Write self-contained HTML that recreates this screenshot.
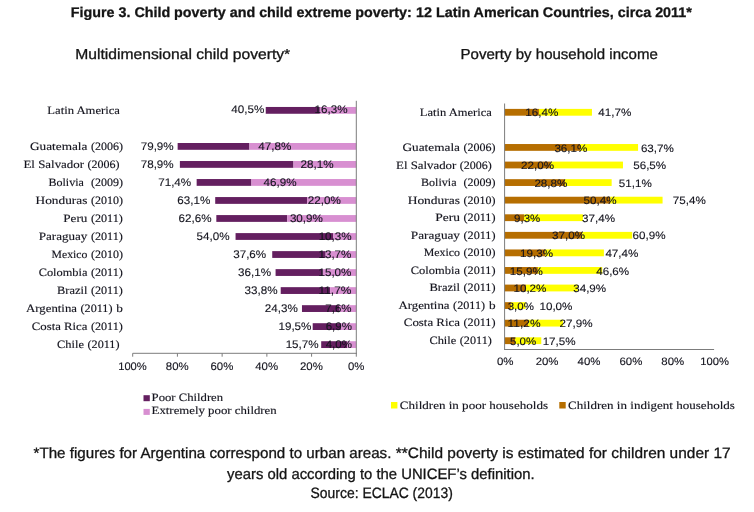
<!DOCTYPE html>
<html><head><meta charset="utf-8"><title>Figure 3</title>
<style>
html,body{margin:0;padding:0;background:#fff;}
body{width:754px;height:512px;overflow:hidden;font-family:"Liberation Sans",sans-serif;}
svg{display:block;will-change:transform;}
text{text-rendering:geometricPrecision;}
</style></head>
<body>
<svg width="754" height="512" viewBox="0 0 754 512">
<rect x="0" y="0" width="754" height="512" fill="#ffffff"/>
<text x="70.80" y="17.00" font-family='"Liberation Sans", sans-serif' font-size="14.0" font-weight="bold" fill="#141414" textLength="341.00" lengthAdjust="spacingAndGlyphs" xml:space="preserve" stroke="#141414" stroke-width="0.3">Figure 3. Child poverty and child extreme poverty:</text>
<text x="416.00" y="17.00" font-family='"Liberation Sans", sans-serif' font-size="14.0" font-weight="bold" fill="#141414" textLength="275.80" lengthAdjust="spacingAndGlyphs" xml:space="preserve" stroke="#141414" stroke-width="0.3">12 Latin American Countries, circa 2011*</text>
<text x="75.30" y="59.40" font-family='"Liberation Sans", sans-serif' font-size="14.5" font-weight="normal" fill="#141414" textLength="214.90" lengthAdjust="spacingAndGlyphs" xml:space="preserve" stroke="#141414" stroke-width="0.3">Multidimensional child poverty*</text>
<text x="460.60" y="59.20" font-family='"Liberation Sans", sans-serif' font-size="14.5" font-weight="normal" fill="#141414" textLength="197.20" lengthAdjust="spacingAndGlyphs" xml:space="preserve" stroke="#141414" stroke-width="0.3">Poverty by household income</text>
<text x="33.50" y="458.40" font-family='"Liberation Sans", sans-serif' font-size="15.0" font-weight="normal" fill="#141414" textLength="357.90" lengthAdjust="spacingAndGlyphs" xml:space="preserve" stroke="#141414" stroke-width="0.3">*The figures for Argentina correspond to urban areas.</text>
<text x="395.80" y="458.40" font-family='"Liberation Sans", sans-serif' font-size="15.0" font-weight="normal" fill="#141414" textLength="334.80" lengthAdjust="spacingAndGlyphs" xml:space="preserve" stroke="#141414" stroke-width="0.3">**Child poverty is estimated for children under 17</text>
<text x="227.00" y="478.70" font-family='"Liberation Sans", sans-serif' font-size="15.0" font-weight="normal" fill="#141414" textLength="307.60" lengthAdjust="spacingAndGlyphs" xml:space="preserve" stroke="#141414" stroke-width="0.3">years old according to the UNICEF’s definition.</text>
<text x="310.60" y="498.40" font-family='"Liberation Sans", sans-serif' font-size="15.0" font-weight="normal" fill="#141414" textLength="142.20" lengthAdjust="spacingAndGlyphs" xml:space="preserve" stroke="#141414" stroke-width="0.3">Source: ECLAC (2013)</text>
<rect x="265.74" y="106.96" width="54.11" height="6.80" fill="#641f60"/>
<rect x="319.85" y="106.96" width="36.45" height="6.80" fill="#d88fd1"/>
<rect x="177.64" y="143.00" width="71.78" height="6.80" fill="#641f60"/>
<rect x="249.42" y="143.00" width="106.88" height="6.80" fill="#d88fd1"/>
<rect x="179.88" y="161.02" width="113.59" height="6.80" fill="#641f60"/>
<rect x="293.47" y="161.02" width="62.83" height="6.80" fill="#d88fd1"/>
<rect x="196.65" y="179.04" width="54.78" height="6.80" fill="#641f60"/>
<rect x="251.43" y="179.04" width="104.87" height="6.80" fill="#d88fd1"/>
<rect x="215.21" y="197.06" width="91.90" height="6.80" fill="#641f60"/>
<rect x="307.11" y="197.06" width="49.19" height="6.80" fill="#d88fd1"/>
<rect x="216.33" y="215.08" width="70.88" height="6.80" fill="#641f60"/>
<rect x="287.21" y="215.08" width="69.09" height="6.80" fill="#d88fd1"/>
<rect x="235.56" y="233.10" width="97.71" height="6.80" fill="#641f60"/>
<rect x="333.27" y="233.10" width="23.03" height="6.80" fill="#d88fd1"/>
<rect x="272.23" y="251.12" width="53.44" height="6.80" fill="#641f60"/>
<rect x="325.67" y="251.12" width="30.63" height="6.80" fill="#d88fd1"/>
<rect x="275.58" y="269.14" width="47.18" height="6.80" fill="#641f60"/>
<rect x="322.76" y="269.14" width="33.54" height="6.80" fill="#d88fd1"/>
<rect x="280.72" y="287.16" width="49.42" height="6.80" fill="#641f60"/>
<rect x="330.14" y="287.16" width="26.16" height="6.80" fill="#d88fd1"/>
<rect x="301.97" y="305.18" width="37.34" height="6.80" fill="#641f60"/>
<rect x="339.31" y="305.18" width="16.99" height="6.80" fill="#d88fd1"/>
<rect x="312.70" y="323.20" width="28.17" height="6.80" fill="#641f60"/>
<rect x="340.87" y="323.20" width="15.43" height="6.80" fill="#d88fd1"/>
<rect x="321.19" y="341.22" width="26.16" height="6.80" fill="#641f60"/>
<rect x="347.36" y="341.22" width="8.94" height="6.80" fill="#d88fd1"/>
<line x1="356.30" y1="100.80" x2="356.30" y2="353.80" stroke="#7c7c7c" stroke-width="1"/>
<line x1="132.70" y1="353.30" x2="356.80" y2="353.30" stroke="#7c7c7c" stroke-width="1"/>
<line x1="356.30" y1="353.30" x2="356.30" y2="356.70" stroke="#7c7c7c" stroke-width="1"/>
<text x="347.90" y="369.50" font-family='"Liberation Sans", sans-serif' font-size="11.0" font-weight="normal" fill="#14141e" textLength="16.40" lengthAdjust="spacingAndGlyphs" xml:space="preserve" stroke="#14141e" stroke-width="0.12">0%</text>
<line x1="311.58" y1="353.30" x2="311.58" y2="356.70" stroke="#7c7c7c" stroke-width="1"/>
<text x="299.98" y="369.50" font-family='"Liberation Sans", sans-serif' font-size="11.0" font-weight="normal" fill="#14141e" textLength="22.80" lengthAdjust="spacingAndGlyphs" xml:space="preserve" stroke="#14141e" stroke-width="0.12">20%</text>
<line x1="266.86" y1="353.30" x2="266.86" y2="356.70" stroke="#7c7c7c" stroke-width="1"/>
<text x="255.26" y="369.50" font-family='"Liberation Sans", sans-serif' font-size="11.0" font-weight="normal" fill="#14141e" textLength="22.80" lengthAdjust="spacingAndGlyphs" xml:space="preserve" stroke="#14141e" stroke-width="0.12">40%</text>
<line x1="222.14" y1="353.30" x2="222.14" y2="356.70" stroke="#7c7c7c" stroke-width="1"/>
<text x="210.54" y="369.50" font-family='"Liberation Sans", sans-serif' font-size="11.0" font-weight="normal" fill="#14141e" textLength="22.80" lengthAdjust="spacingAndGlyphs" xml:space="preserve" stroke="#14141e" stroke-width="0.12">60%</text>
<line x1="177.42" y1="353.30" x2="177.42" y2="356.70" stroke="#7c7c7c" stroke-width="1"/>
<text x="165.82" y="369.50" font-family='"Liberation Sans", sans-serif' font-size="11.0" font-weight="normal" fill="#14141e" textLength="22.80" lengthAdjust="spacingAndGlyphs" xml:space="preserve" stroke="#14141e" stroke-width="0.12">80%</text>
<line x1="132.70" y1="353.30" x2="132.70" y2="356.70" stroke="#7c7c7c" stroke-width="1"/>
<text x="118.20" y="369.50" font-family='"Liberation Sans", sans-serif' font-size="11.0" font-weight="normal" fill="#14141e" textLength="28.60" lengthAdjust="spacingAndGlyphs" xml:space="preserve" stroke="#14141e" stroke-width="0.12">100%</text>
<text x="231.30" y="113.46" font-family='"Liberation Sans", sans-serif' font-size="11.0" font-weight="normal" fill="#14141e" textLength="33.00" lengthAdjust="spacingAndGlyphs" xml:space="preserve" stroke="#14141e" stroke-width="0.12">40,5%</text>
<text x="314.55" y="113.46" font-family='"Liberation Sans", sans-serif' font-size="11.0" font-weight="normal" fill="#14141e" textLength="33.00" lengthAdjust="spacingAndGlyphs" xml:space="preserve" stroke="#14141e" stroke-width="0.12">16,3%</text>
<text x="140.70" y="149.50" font-family='"Liberation Sans", sans-serif' font-size="11.0" font-weight="normal" fill="#14141e" textLength="33.00" lengthAdjust="spacingAndGlyphs" xml:space="preserve" stroke="#14141e" stroke-width="0.12">79,9%</text>
<text x="258.30" y="149.50" font-family='"Liberation Sans", sans-serif' font-size="11.0" font-weight="normal" fill="#14141e" textLength="33.00" lengthAdjust="spacingAndGlyphs" xml:space="preserve" stroke="#14141e" stroke-width="0.12">47,8%</text>
<text x="140.70" y="167.52" font-family='"Liberation Sans", sans-serif' font-size="11.0" font-weight="normal" fill="#14141e" textLength="33.00" lengthAdjust="spacingAndGlyphs" xml:space="preserve" stroke="#14141e" stroke-width="0.12">78,9%</text>
<text x="300.60" y="167.52" font-family='"Liberation Sans", sans-serif' font-size="11.0" font-weight="normal" fill="#14141e" textLength="33.00" lengthAdjust="spacingAndGlyphs" xml:space="preserve" stroke="#14141e" stroke-width="0.12">28,1%</text>
<text x="158.20" y="185.54" font-family='"Liberation Sans", sans-serif' font-size="11.0" font-weight="normal" fill="#14141e" textLength="33.00" lengthAdjust="spacingAndGlyphs" xml:space="preserve" stroke="#14141e" stroke-width="0.12">71,4%</text>
<text x="263.60" y="185.54" font-family='"Liberation Sans", sans-serif' font-size="11.0" font-weight="normal" fill="#14141e" textLength="33.00" lengthAdjust="spacingAndGlyphs" xml:space="preserve" stroke="#14141e" stroke-width="0.12">46,9%</text>
<text x="177.30" y="203.56" font-family='"Liberation Sans", sans-serif' font-size="11.0" font-weight="normal" fill="#14141e" textLength="33.00" lengthAdjust="spacingAndGlyphs" xml:space="preserve" stroke="#14141e" stroke-width="0.12">63,1%</text>
<text x="307.80" y="203.56" font-family='"Liberation Sans", sans-serif' font-size="11.0" font-weight="normal" fill="#14141e" textLength="33.00" lengthAdjust="spacingAndGlyphs" xml:space="preserve" stroke="#14141e" stroke-width="0.12">22,0%</text>
<text x="178.60" y="221.58" font-family='"Liberation Sans", sans-serif' font-size="11.0" font-weight="normal" fill="#14141e" textLength="33.00" lengthAdjust="spacingAndGlyphs" xml:space="preserve" stroke="#14141e" stroke-width="0.12">62,6%</text>
<text x="289.90" y="221.58" font-family='"Liberation Sans", sans-serif' font-size="11.0" font-weight="normal" fill="#14141e" textLength="33.00" lengthAdjust="spacingAndGlyphs" xml:space="preserve" stroke="#14141e" stroke-width="0.12">30,9%</text>
<text x="196.50" y="239.60" font-family='"Liberation Sans", sans-serif' font-size="11.0" font-weight="normal" fill="#14141e" textLength="33.00" lengthAdjust="spacingAndGlyphs" xml:space="preserve" stroke="#14141e" stroke-width="0.12">54,0%</text>
<text x="318.65" y="239.60" font-family='"Liberation Sans", sans-serif' font-size="11.0" font-weight="normal" fill="#14141e" textLength="33.00" lengthAdjust="spacingAndGlyphs" xml:space="preserve" stroke="#14141e" stroke-width="0.12">10,3%</text>
<text x="233.20" y="257.62" font-family='"Liberation Sans", sans-serif' font-size="11.0" font-weight="normal" fill="#14141e" textLength="33.00" lengthAdjust="spacingAndGlyphs" xml:space="preserve" stroke="#14141e" stroke-width="0.12">37,6%</text>
<text x="318.45" y="257.62" font-family='"Liberation Sans", sans-serif' font-size="11.0" font-weight="normal" fill="#14141e" textLength="33.00" lengthAdjust="spacingAndGlyphs" xml:space="preserve" stroke="#14141e" stroke-width="0.12">13,7%</text>
<text x="238.00" y="275.64" font-family='"Liberation Sans", sans-serif' font-size="11.0" font-weight="normal" fill="#14141e" textLength="33.00" lengthAdjust="spacingAndGlyphs" xml:space="preserve" stroke="#14141e" stroke-width="0.12">36,1%</text>
<text x="318.45" y="275.64" font-family='"Liberation Sans", sans-serif' font-size="11.0" font-weight="normal" fill="#14141e" textLength="33.00" lengthAdjust="spacingAndGlyphs" xml:space="preserve" stroke="#14141e" stroke-width="0.12">15,0%</text>
<text x="244.50" y="293.66" font-family='"Liberation Sans", sans-serif' font-size="11.0" font-weight="normal" fill="#14141e" textLength="33.00" lengthAdjust="spacingAndGlyphs" xml:space="preserve" stroke="#14141e" stroke-width="0.12">33,8%</text>
<text x="318.45" y="293.66" font-family='"Liberation Sans", sans-serif' font-size="11.0" font-weight="normal" fill="#14141e" textLength="33.00" lengthAdjust="spacingAndGlyphs" xml:space="preserve" stroke="#14141e" stroke-width="0.12">11,7%</text>
<text x="264.80" y="311.68" font-family='"Liberation Sans", sans-serif' font-size="11.0" font-weight="normal" fill="#14141e" textLength="33.00" lengthAdjust="spacingAndGlyphs" xml:space="preserve" stroke="#14141e" stroke-width="0.12">24,3%</text>
<text x="325.30" y="311.68" font-family='"Liberation Sans", sans-serif' font-size="11.0" font-weight="normal" fill="#14141e" textLength="26.20" lengthAdjust="spacingAndGlyphs" xml:space="preserve" stroke="#14141e" stroke-width="0.12">7,6%</text>
<text x="278.45" y="329.70" font-family='"Liberation Sans", sans-serif' font-size="11.0" font-weight="normal" fill="#14141e" textLength="33.00" lengthAdjust="spacingAndGlyphs" xml:space="preserve" stroke="#14141e" stroke-width="0.12">19,5%</text>
<text x="325.70" y="329.70" font-family='"Liberation Sans", sans-serif' font-size="11.0" font-weight="normal" fill="#14141e" textLength="26.20" lengthAdjust="spacingAndGlyphs" xml:space="preserve" stroke="#14141e" stroke-width="0.12">6,9%</text>
<text x="285.65" y="347.72" font-family='"Liberation Sans", sans-serif' font-size="11.0" font-weight="normal" fill="#14141e" textLength="33.00" lengthAdjust="spacingAndGlyphs" xml:space="preserve" stroke="#14141e" stroke-width="0.12">15,7%</text>
<text x="325.70" y="347.72" font-family='"Liberation Sans", sans-serif' font-size="11.0" font-weight="normal" fill="#14141e" textLength="26.20" lengthAdjust="spacingAndGlyphs" xml:space="preserve" stroke="#14141e" stroke-width="0.12">4,0%</text>
<text x="47.30" y="114.00" font-family='"Liberation Serif", serif' font-size="11.2" font-weight="normal" fill="#14141e" textLength="72.70" lengthAdjust="spacingAndGlyphs" xml:space="preserve" stroke="#14141e" stroke-width="0.14">Latin America</text>
<text x="90.90" y="150.40" font-family='"Liberation Serif", serif' font-size="11.2" font-weight="normal" fill="#14141e" textLength="32.00" lengthAdjust="spacingAndGlyphs" xml:space="preserve" stroke="#14141e" stroke-width="0.14">(2006)</text>
<text x="30.00" y="150.40" font-family='"Liberation Serif", serif' font-size="11.2" font-weight="normal" fill="#14141e" textLength="57.40" lengthAdjust="spacingAndGlyphs" xml:space="preserve" stroke="#14141e" stroke-width="0.14">Guatemala</text>
<text x="87.50" y="168.20" font-family='"Liberation Serif", serif' font-size="11.2" font-weight="normal" fill="#14141e" textLength="32.00" lengthAdjust="spacingAndGlyphs" xml:space="preserve" stroke="#14141e" stroke-width="0.14">(2006)</text>
<text x="23.50" y="168.20" font-family='"Liberation Serif", serif' font-size="11.2" font-weight="normal" fill="#14141e" textLength="60.50" lengthAdjust="spacingAndGlyphs" xml:space="preserve" stroke="#14141e" stroke-width="0.14">El Salvador</text>
<text x="90.90" y="186.00" font-family='"Liberation Serif", serif' font-size="11.2" font-weight="normal" fill="#14141e" textLength="32.00" lengthAdjust="spacingAndGlyphs" xml:space="preserve" stroke="#14141e" stroke-width="0.14">(2009)</text>
<text x="48.50" y="186.00" font-family='"Liberation Serif", serif' font-size="11.2" font-weight="normal" fill="#14141e" textLength="35.40" lengthAdjust="spacingAndGlyphs" xml:space="preserve" stroke="#14141e" stroke-width="0.14">Bolivia</text>
<text x="90.90" y="203.90" font-family='"Liberation Serif", serif' font-size="11.2" font-weight="normal" fill="#14141e" textLength="32.00" lengthAdjust="spacingAndGlyphs" xml:space="preserve" stroke="#14141e" stroke-width="0.14">(2010)</text>
<text x="35.60" y="203.90" font-family='"Liberation Serif", serif' font-size="11.2" font-weight="normal" fill="#14141e" textLength="51.80" lengthAdjust="spacingAndGlyphs" xml:space="preserve" stroke="#14141e" stroke-width="0.14">Honduras</text>
<text x="90.90" y="221.90" font-family='"Liberation Serif", serif' font-size="11.2" font-weight="normal" fill="#14141e" textLength="32.00" lengthAdjust="spacingAndGlyphs" xml:space="preserve" stroke="#14141e" stroke-width="0.14">(2011)</text>
<text x="63.30" y="221.90" font-family='"Liberation Serif", serif' font-size="11.2" font-weight="normal" fill="#14141e" textLength="24.10" lengthAdjust="spacingAndGlyphs" xml:space="preserve" stroke="#14141e" stroke-width="0.14">Peru</text>
<text x="90.90" y="240.00" font-family='"Liberation Serif", serif' font-size="11.2" font-weight="normal" fill="#14141e" textLength="32.00" lengthAdjust="spacingAndGlyphs" xml:space="preserve" stroke="#14141e" stroke-width="0.14">(2011)</text>
<text x="38.70" y="240.00" font-family='"Liberation Serif", serif' font-size="11.2" font-weight="normal" fill="#14141e" textLength="48.70" lengthAdjust="spacingAndGlyphs" xml:space="preserve" stroke="#14141e" stroke-width="0.14">Paraguay</text>
<text x="90.90" y="258.00" font-family='"Liberation Serif", serif' font-size="11.2" font-weight="normal" fill="#14141e" textLength="32.00" lengthAdjust="spacingAndGlyphs" xml:space="preserve" stroke="#14141e" stroke-width="0.14">(2010)</text>
<text x="51.60" y="258.00" font-family='"Liberation Serif", serif' font-size="11.2" font-weight="normal" fill="#14141e" textLength="35.80" lengthAdjust="spacingAndGlyphs" xml:space="preserve" stroke="#14141e" stroke-width="0.14">Mexico</text>
<text x="90.90" y="275.90" font-family='"Liberation Serif", serif' font-size="11.2" font-weight="normal" fill="#14141e" textLength="32.00" lengthAdjust="spacingAndGlyphs" xml:space="preserve" stroke="#14141e" stroke-width="0.14">(2011)</text>
<text x="38.70" y="275.90" font-family='"Liberation Serif", serif' font-size="11.2" font-weight="normal" fill="#14141e" textLength="48.70" lengthAdjust="spacingAndGlyphs" xml:space="preserve" stroke="#14141e" stroke-width="0.14">Colombia</text>
<text x="90.90" y="293.90" font-family='"Liberation Serif", serif' font-size="11.2" font-weight="normal" fill="#14141e" textLength="32.00" lengthAdjust="spacingAndGlyphs" xml:space="preserve" stroke="#14141e" stroke-width="0.14">(2011)</text>
<text x="57.10" y="293.90" font-family='"Liberation Serif", serif' font-size="11.2" font-weight="normal" fill="#14141e" textLength="30.30" lengthAdjust="spacingAndGlyphs" xml:space="preserve" stroke="#14141e" stroke-width="0.14">Brazil</text>
<text x="116.30" y="311.80" font-family='"Liberation Serif", serif' font-size="11.2" font-weight="normal" fill="#14141e" textLength="6.60" lengthAdjust="spacingAndGlyphs" xml:space="preserve" stroke="#14141e" stroke-width="0.14">b</text>
<text x="80.50" y="311.80" font-family='"Liberation Serif", serif' font-size="11.2" font-weight="normal" fill="#14141e" textLength="32.00" lengthAdjust="spacingAndGlyphs" xml:space="preserve" stroke="#14141e" stroke-width="0.14">(2011)</text>
<text x="26.10" y="311.80" font-family='"Liberation Serif", serif' font-size="11.2" font-weight="normal" fill="#14141e" textLength="50.90" lengthAdjust="spacingAndGlyphs" xml:space="preserve" stroke="#14141e" stroke-width="0.14">Argentina</text>
<text x="90.90" y="329.80" font-family='"Liberation Serif", serif' font-size="11.2" font-weight="normal" fill="#14141e" textLength="32.00" lengthAdjust="spacingAndGlyphs" xml:space="preserve" stroke="#14141e" stroke-width="0.14">(2011)</text>
<text x="31.80" y="329.80" font-family='"Liberation Serif", serif' font-size="11.2" font-weight="normal" fill="#14141e" textLength="55.60" lengthAdjust="spacingAndGlyphs" xml:space="preserve" stroke="#14141e" stroke-width="0.14">Costa Rica</text>
<text x="87.50" y="347.60" font-family='"Liberation Serif", serif' font-size="11.2" font-weight="normal" fill="#14141e" textLength="32.00" lengthAdjust="spacingAndGlyphs" xml:space="preserve" stroke="#14141e" stroke-width="0.14">(2011)</text>
<text x="57.10" y="347.60" font-family='"Liberation Serif", serif' font-size="11.2" font-weight="normal" fill="#14141e" textLength="26.90" lengthAdjust="spacingAndGlyphs" xml:space="preserve" stroke="#14141e" stroke-width="0.14">Chile</text>
<rect x="143.50" y="395.20" width="6.30" height="6.00" fill="#641f60"/>
<rect x="143.50" y="408.90" width="6.30" height="6.00" fill="#d88fd1"/>
<text x="151.60" y="400.50" font-family='"Liberation Serif", serif' font-size="11.2" font-weight="normal" fill="#14141e" textLength="71.50" lengthAdjust="spacingAndGlyphs" xml:space="preserve" stroke="#14141e" stroke-width="0.14">Poor Children</text>
<text x="151.60" y="414.40" font-family='"Liberation Serif", serif' font-size="11.2" font-weight="normal" fill="#14141e" textLength="125.10" lengthAdjust="spacingAndGlyphs" xml:space="preserve" stroke="#14141e" stroke-width="0.14">Extremely poor children</text>
<rect x="504.60" y="108.89" width="34.36" height="6.80" fill="#b66e00"/>
<rect x="538.96" y="108.89" width="53.00" height="6.80" fill="#ffff00"/>
<rect x="504.60" y="144.03" width="75.63" height="6.80" fill="#b66e00"/>
<rect x="580.23" y="144.03" width="57.82" height="6.80" fill="#ffff00"/>
<rect x="504.60" y="161.60" width="46.09" height="6.80" fill="#b66e00"/>
<rect x="550.69" y="161.60" width="72.28" height="6.80" fill="#ffff00"/>
<rect x="504.60" y="179.17" width="60.34" height="6.80" fill="#b66e00"/>
<rect x="564.94" y="179.17" width="46.72" height="6.80" fill="#ffff00"/>
<rect x="504.60" y="196.74" width="105.59" height="6.80" fill="#b66e00"/>
<rect x="610.19" y="196.74" width="52.38" height="6.80" fill="#ffff00"/>
<rect x="504.60" y="214.31" width="19.48" height="6.80" fill="#b66e00"/>
<rect x="524.08" y="214.31" width="58.87" height="6.80" fill="#ffff00"/>
<rect x="504.60" y="231.89" width="77.51" height="6.80" fill="#b66e00"/>
<rect x="582.12" y="231.89" width="50.07" height="6.80" fill="#ffff00"/>
<rect x="504.60" y="249.46" width="40.43" height="6.80" fill="#b66e00"/>
<rect x="545.03" y="249.46" width="58.87" height="6.80" fill="#ffff00"/>
<rect x="504.60" y="267.03" width="33.31" height="6.80" fill="#b66e00"/>
<rect x="537.91" y="267.03" width="64.32" height="6.80" fill="#ffff00"/>
<rect x="504.60" y="284.60" width="21.37" height="6.80" fill="#b66e00"/>
<rect x="525.97" y="284.60" width="51.75" height="6.80" fill="#ffff00"/>
<rect x="504.60" y="302.17" width="6.29" height="6.80" fill="#b66e00"/>
<rect x="510.89" y="302.17" width="14.67" height="6.80" fill="#ffff00"/>
<rect x="504.60" y="319.74" width="23.46" height="6.80" fill="#b66e00"/>
<rect x="528.06" y="319.74" width="34.99" height="6.80" fill="#ffff00"/>
<rect x="504.60" y="337.31" width="10.48" height="6.80" fill="#b66e00"/>
<rect x="515.08" y="337.31" width="26.19" height="6.80" fill="#ffff00"/>
<line x1="504.60" y1="103.50" x2="504.60" y2="350.00" stroke="#7c7c7c" stroke-width="1"/>
<line x1="504.10" y1="349.50" x2="714.10" y2="349.50" stroke="#7c7c7c" stroke-width="1"/>
<text x="496.90" y="365.30" font-family='"Liberation Sans", sans-serif' font-size="10.7" font-weight="normal" fill="#14141e" textLength="16.60" lengthAdjust="spacingAndGlyphs" xml:space="preserve" stroke="#14141e" stroke-width="0.12">0%</text>
<text x="535.65" y="365.30" font-family='"Liberation Sans", sans-serif' font-size="10.7" font-weight="normal" fill="#14141e" textLength="22.90" lengthAdjust="spacingAndGlyphs" xml:space="preserve" stroke="#14141e" stroke-width="0.12">20%</text>
<text x="577.55" y="365.30" font-family='"Liberation Sans", sans-serif' font-size="10.7" font-weight="normal" fill="#14141e" textLength="22.90" lengthAdjust="spacingAndGlyphs" xml:space="preserve" stroke="#14141e" stroke-width="0.12">40%</text>
<text x="619.45" y="365.30" font-family='"Liberation Sans", sans-serif' font-size="10.7" font-weight="normal" fill="#14141e" textLength="22.90" lengthAdjust="spacingAndGlyphs" xml:space="preserve" stroke="#14141e" stroke-width="0.12">60%</text>
<text x="661.35" y="365.30" font-family='"Liberation Sans", sans-serif' font-size="10.7" font-weight="normal" fill="#14141e" textLength="22.90" lengthAdjust="spacingAndGlyphs" xml:space="preserve" stroke="#14141e" stroke-width="0.12">80%</text>
<text x="700.35" y="365.30" font-family='"Liberation Sans", sans-serif' font-size="10.7" font-weight="normal" fill="#14141e" textLength="28.70" lengthAdjust="spacingAndGlyphs" xml:space="preserve" stroke="#14141e" stroke-width="0.12">100%</text>
<text x="525.35" y="116.39" font-family='"Liberation Sans", sans-serif' font-size="10.7" font-weight="normal" fill="#14141e" textLength="33.00" lengthAdjust="spacingAndGlyphs" xml:space="preserve" stroke="#14141e" stroke-width="0.12">16,4%</text>
<text x="598.30" y="116.39" font-family='"Liberation Sans", sans-serif' font-size="10.7" font-weight="normal" fill="#14141e" textLength="33.00" lengthAdjust="spacingAndGlyphs" xml:space="preserve" stroke="#14141e" stroke-width="0.12">41,7%</text>
<text x="554.40" y="151.53" font-family='"Liberation Sans", sans-serif' font-size="10.7" font-weight="normal" fill="#14141e" textLength="33.00" lengthAdjust="spacingAndGlyphs" xml:space="preserve" stroke="#14141e" stroke-width="0.12">36,1%</text>
<text x="640.90" y="151.53" font-family='"Liberation Sans", sans-serif' font-size="10.7" font-weight="normal" fill="#14141e" textLength="33.00" lengthAdjust="spacingAndGlyphs" xml:space="preserve" stroke="#14141e" stroke-width="0.12">63,7%</text>
<text x="521.00" y="169.10" font-family='"Liberation Sans", sans-serif' font-size="10.7" font-weight="normal" fill="#14141e" textLength="33.00" lengthAdjust="spacingAndGlyphs" xml:space="preserve" stroke="#14141e" stroke-width="0.12">22,0%</text>
<text x="633.20" y="169.10" font-family='"Liberation Sans", sans-serif' font-size="10.7" font-weight="normal" fill="#14141e" textLength="33.00" lengthAdjust="spacingAndGlyphs" xml:space="preserve" stroke="#14141e" stroke-width="0.12">56,5%</text>
<text x="534.40" y="186.67" font-family='"Liberation Sans", sans-serif' font-size="10.7" font-weight="normal" fill="#14141e" textLength="33.00" lengthAdjust="spacingAndGlyphs" xml:space="preserve" stroke="#14141e" stroke-width="0.12">28,8%</text>
<text x="618.80" y="186.67" font-family='"Liberation Sans", sans-serif' font-size="10.7" font-weight="normal" fill="#14141e" textLength="33.00" lengthAdjust="spacingAndGlyphs" xml:space="preserve" stroke="#14141e" stroke-width="0.12">51,1%</text>
<text x="583.60" y="204.24" font-family='"Liberation Sans", sans-serif' font-size="10.7" font-weight="normal" fill="#14141e" textLength="33.00" lengthAdjust="spacingAndGlyphs" xml:space="preserve" stroke="#14141e" stroke-width="0.12">50,4%</text>
<text x="672.80" y="204.24" font-family='"Liberation Sans", sans-serif' font-size="10.7" font-weight="normal" fill="#14141e" textLength="33.00" lengthAdjust="spacingAndGlyphs" xml:space="preserve" stroke="#14141e" stroke-width="0.12">75,4%</text>
<text x="514.10" y="221.81" font-family='"Liberation Sans", sans-serif' font-size="10.7" font-weight="normal" fill="#14141e" textLength="26.20" lengthAdjust="spacingAndGlyphs" xml:space="preserve" stroke="#14141e" stroke-width="0.12">9,3%</text>
<text x="582.10" y="221.81" font-family='"Liberation Sans", sans-serif' font-size="10.7" font-weight="normal" fill="#14141e" textLength="33.00" lengthAdjust="spacingAndGlyphs" xml:space="preserve" stroke="#14141e" stroke-width="0.12">37,4%</text>
<text x="552.00" y="239.39" font-family='"Liberation Sans", sans-serif' font-size="10.7" font-weight="normal" fill="#14141e" textLength="33.00" lengthAdjust="spacingAndGlyphs" xml:space="preserve" stroke="#14141e" stroke-width="0.12">37,0%</text>
<text x="632.60" y="239.39" font-family='"Liberation Sans", sans-serif' font-size="10.7" font-weight="normal" fill="#14141e" textLength="33.00" lengthAdjust="spacingAndGlyphs" xml:space="preserve" stroke="#14141e" stroke-width="0.12">60,9%</text>
<text x="520.05" y="256.96" font-family='"Liberation Sans", sans-serif' font-size="10.7" font-weight="normal" fill="#14141e" textLength="33.00" lengthAdjust="spacingAndGlyphs" xml:space="preserve" stroke="#14141e" stroke-width="0.12">19,3%</text>
<text x="605.40" y="256.96" font-family='"Liberation Sans", sans-serif' font-size="10.7" font-weight="normal" fill="#14141e" textLength="33.00" lengthAdjust="spacingAndGlyphs" xml:space="preserve" stroke="#14141e" stroke-width="0.12">47,4%</text>
<text x="509.85" y="274.53" font-family='"Liberation Sans", sans-serif' font-size="10.7" font-weight="normal" fill="#14141e" textLength="33.00" lengthAdjust="spacingAndGlyphs" xml:space="preserve" stroke="#14141e" stroke-width="0.12">15,9%</text>
<text x="596.20" y="274.53" font-family='"Liberation Sans", sans-serif' font-size="10.7" font-weight="normal" fill="#14141e" textLength="33.00" lengthAdjust="spacingAndGlyphs" xml:space="preserve" stroke="#14141e" stroke-width="0.12">46,6%</text>
<text x="513.45" y="292.10" font-family='"Liberation Sans", sans-serif' font-size="10.7" font-weight="normal" fill="#14141e" textLength="33.00" lengthAdjust="spacingAndGlyphs" xml:space="preserve" stroke="#14141e" stroke-width="0.12">10,2%</text>
<text x="573.20" y="292.10" font-family='"Liberation Sans", sans-serif' font-size="10.7" font-weight="normal" fill="#14141e" textLength="33.00" lengthAdjust="spacingAndGlyphs" xml:space="preserve" stroke="#14141e" stroke-width="0.12">34,9%</text>
<text x="507.70" y="309.67" font-family='"Liberation Sans", sans-serif' font-size="10.7" font-weight="normal" fill="#14141e" textLength="26.20" lengthAdjust="spacingAndGlyphs" xml:space="preserve" stroke="#14141e" stroke-width="0.12">3,0%</text>
<text x="539.45" y="309.67" font-family='"Liberation Sans", sans-serif' font-size="10.7" font-weight="normal" fill="#14141e" textLength="33.00" lengthAdjust="spacingAndGlyphs" xml:space="preserve" stroke="#14141e" stroke-width="0.12">10,0%</text>
<text x="507.55" y="327.24" font-family='"Liberation Sans", sans-serif' font-size="10.7" font-weight="normal" fill="#14141e" textLength="33.00" lengthAdjust="spacingAndGlyphs" xml:space="preserve" stroke="#14141e" stroke-width="0.12">11,2%</text>
<text x="559.50" y="327.24" font-family='"Liberation Sans", sans-serif' font-size="10.7" font-weight="normal" fill="#14141e" textLength="33.00" lengthAdjust="spacingAndGlyphs" xml:space="preserve" stroke="#14141e" stroke-width="0.12">27,9%</text>
<text x="510.00" y="344.81" font-family='"Liberation Sans", sans-serif' font-size="10.7" font-weight="normal" fill="#14141e" textLength="26.20" lengthAdjust="spacingAndGlyphs" xml:space="preserve" stroke="#14141e" stroke-width="0.12">5,0%</text>
<text x="542.65" y="344.81" font-family='"Liberation Sans", sans-serif' font-size="10.7" font-weight="normal" fill="#14141e" textLength="33.00" lengthAdjust="spacingAndGlyphs" xml:space="preserve" stroke="#14141e" stroke-width="0.12">17,5%</text>
<text x="419.80" y="115.70" font-family='"Liberation Serif", serif' font-size="11.2" font-weight="normal" fill="#14141e" textLength="72.00" lengthAdjust="spacingAndGlyphs" xml:space="preserve" stroke="#14141e" stroke-width="0.14">Latin America</text>
<text x="463.50" y="151.20" font-family='"Liberation Serif", serif' font-size="11.2" font-weight="normal" fill="#14141e" textLength="32.00" lengthAdjust="spacingAndGlyphs" xml:space="preserve" stroke="#14141e" stroke-width="0.14">(2006)</text>
<text x="402.50" y="151.20" font-family='"Liberation Serif", serif' font-size="11.2" font-weight="normal" fill="#14141e" textLength="57.50" lengthAdjust="spacingAndGlyphs" xml:space="preserve" stroke="#14141e" stroke-width="0.14">Guatemala</text>
<text x="459.80" y="168.70" font-family='"Liberation Serif", serif' font-size="11.2" font-weight="normal" fill="#14141e" textLength="32.00" lengthAdjust="spacingAndGlyphs" xml:space="preserve" stroke="#14141e" stroke-width="0.14">(2006)</text>
<text x="396.10" y="168.70" font-family='"Liberation Serif", serif' font-size="11.2" font-weight="normal" fill="#14141e" textLength="60.20" lengthAdjust="spacingAndGlyphs" xml:space="preserve" stroke="#14141e" stroke-width="0.14">El Salvador</text>
<text x="463.50" y="186.20" font-family='"Liberation Serif", serif' font-size="11.2" font-weight="normal" fill="#14141e" textLength="32.00" lengthAdjust="spacingAndGlyphs" xml:space="preserve" stroke="#14141e" stroke-width="0.14">(2009)</text>
<text x="421.10" y="186.20" font-family='"Liberation Serif", serif' font-size="11.2" font-weight="normal" fill="#14141e" textLength="35.40" lengthAdjust="spacingAndGlyphs" xml:space="preserve" stroke="#14141e" stroke-width="0.14">Bolivia</text>
<text x="463.50" y="203.70" font-family='"Liberation Serif", serif' font-size="11.2" font-weight="normal" fill="#14141e" textLength="32.00" lengthAdjust="spacingAndGlyphs" xml:space="preserve" stroke="#14141e" stroke-width="0.14">(2010)</text>
<text x="407.70" y="203.70" font-family='"Liberation Serif", serif' font-size="11.2" font-weight="normal" fill="#14141e" textLength="52.30" lengthAdjust="spacingAndGlyphs" xml:space="preserve" stroke="#14141e" stroke-width="0.14">Honduras</text>
<text x="463.50" y="221.20" font-family='"Liberation Serif", serif' font-size="11.2" font-weight="normal" fill="#14141e" textLength="32.00" lengthAdjust="spacingAndGlyphs" xml:space="preserve" stroke="#14141e" stroke-width="0.14">(2011)</text>
<text x="435.30" y="221.20" font-family='"Liberation Serif", serif' font-size="11.2" font-weight="normal" fill="#14141e" textLength="24.70" lengthAdjust="spacingAndGlyphs" xml:space="preserve" stroke="#14141e" stroke-width="0.14">Peru</text>
<text x="463.50" y="238.70" font-family='"Liberation Serif", serif' font-size="11.2" font-weight="normal" fill="#14141e" textLength="32.00" lengthAdjust="spacingAndGlyphs" xml:space="preserve" stroke="#14141e" stroke-width="0.14">(2011)</text>
<text x="410.80" y="238.70" font-family='"Liberation Serif", serif' font-size="11.2" font-weight="normal" fill="#14141e" textLength="49.20" lengthAdjust="spacingAndGlyphs" xml:space="preserve" stroke="#14141e" stroke-width="0.14">Paraguay</text>
<text x="463.50" y="256.20" font-family='"Liberation Serif", serif' font-size="11.2" font-weight="normal" fill="#14141e" textLength="32.00" lengthAdjust="spacingAndGlyphs" xml:space="preserve" stroke="#14141e" stroke-width="0.14">(2010)</text>
<text x="423.70" y="256.20" font-family='"Liberation Serif", serif' font-size="11.2" font-weight="normal" fill="#14141e" textLength="36.30" lengthAdjust="spacingAndGlyphs" xml:space="preserve" stroke="#14141e" stroke-width="0.14">Mexico</text>
<text x="463.50" y="273.70" font-family='"Liberation Serif", serif' font-size="11.2" font-weight="normal" fill="#14141e" textLength="32.00" lengthAdjust="spacingAndGlyphs" xml:space="preserve" stroke="#14141e" stroke-width="0.14">(2011)</text>
<text x="410.80" y="273.70" font-family='"Liberation Serif", serif' font-size="11.2" font-weight="normal" fill="#14141e" textLength="49.20" lengthAdjust="spacingAndGlyphs" xml:space="preserve" stroke="#14141e" stroke-width="0.14">Colombia</text>
<text x="463.50" y="291.20" font-family='"Liberation Serif", serif' font-size="11.2" font-weight="normal" fill="#14141e" textLength="32.00" lengthAdjust="spacingAndGlyphs" xml:space="preserve" stroke="#14141e" stroke-width="0.14">(2011)</text>
<text x="429.40" y="291.20" font-family='"Liberation Serif", serif' font-size="11.2" font-weight="normal" fill="#14141e" textLength="30.60" lengthAdjust="spacingAndGlyphs" xml:space="preserve" stroke="#14141e" stroke-width="0.14">Brazil</text>
<text x="488.90" y="308.70" font-family='"Liberation Serif", serif' font-size="11.2" font-weight="normal" fill="#14141e" textLength="6.60" lengthAdjust="spacingAndGlyphs" xml:space="preserve" stroke="#14141e" stroke-width="0.14">b</text>
<text x="453.10" y="308.70" font-family='"Liberation Serif", serif' font-size="11.2" font-weight="normal" fill="#14141e" textLength="32.00" lengthAdjust="spacingAndGlyphs" xml:space="preserve" stroke="#14141e" stroke-width="0.14">(2011)</text>
<text x="398.40" y="308.70" font-family='"Liberation Serif", serif' font-size="11.2" font-weight="normal" fill="#14141e" textLength="51.20" lengthAdjust="spacingAndGlyphs" xml:space="preserve" stroke="#14141e" stroke-width="0.14">Argentina</text>
<text x="463.50" y="326.20" font-family='"Liberation Serif", serif' font-size="11.2" font-weight="normal" fill="#14141e" textLength="32.00" lengthAdjust="spacingAndGlyphs" xml:space="preserve" stroke="#14141e" stroke-width="0.14">(2011)</text>
<text x="403.80" y="326.20" font-family='"Liberation Serif", serif' font-size="11.2" font-weight="normal" fill="#14141e" textLength="56.20" lengthAdjust="spacingAndGlyphs" xml:space="preserve" stroke="#14141e" stroke-width="0.14">Costa Rica</text>
<text x="459.80" y="343.70" font-family='"Liberation Serif", serif' font-size="11.2" font-weight="normal" fill="#14141e" textLength="32.00" lengthAdjust="spacingAndGlyphs" xml:space="preserve" stroke="#14141e" stroke-width="0.14">(2011)</text>
<text x="429.40" y="343.70" font-family='"Liberation Serif", serif' font-size="11.2" font-weight="normal" fill="#14141e" textLength="26.90" lengthAdjust="spacingAndGlyphs" xml:space="preserve" stroke="#14141e" stroke-width="0.14">Chile</text>
<rect x="391.00" y="402.00" width="6.40" height="6.50" fill="#ffff00"/>
<rect x="559.30" y="402.00" width="6.40" height="6.50" fill="#b66e00"/>
<text x="399.80" y="409.10" font-family='"Liberation Serif", serif' font-size="11.2" font-weight="normal" fill="#14141e" textLength="148.20" lengthAdjust="spacingAndGlyphs" xml:space="preserve" stroke="#14141e" stroke-width="0.14">Children in poor households</text>
<text x="568.00" y="409.10" font-family='"Liberation Serif", serif' font-size="11.2" font-weight="normal" fill="#14141e" textLength="166.90" lengthAdjust="spacingAndGlyphs" xml:space="preserve" stroke="#14141e" stroke-width="0.14">Children in indigent households</text>
</svg>
</body></html>
